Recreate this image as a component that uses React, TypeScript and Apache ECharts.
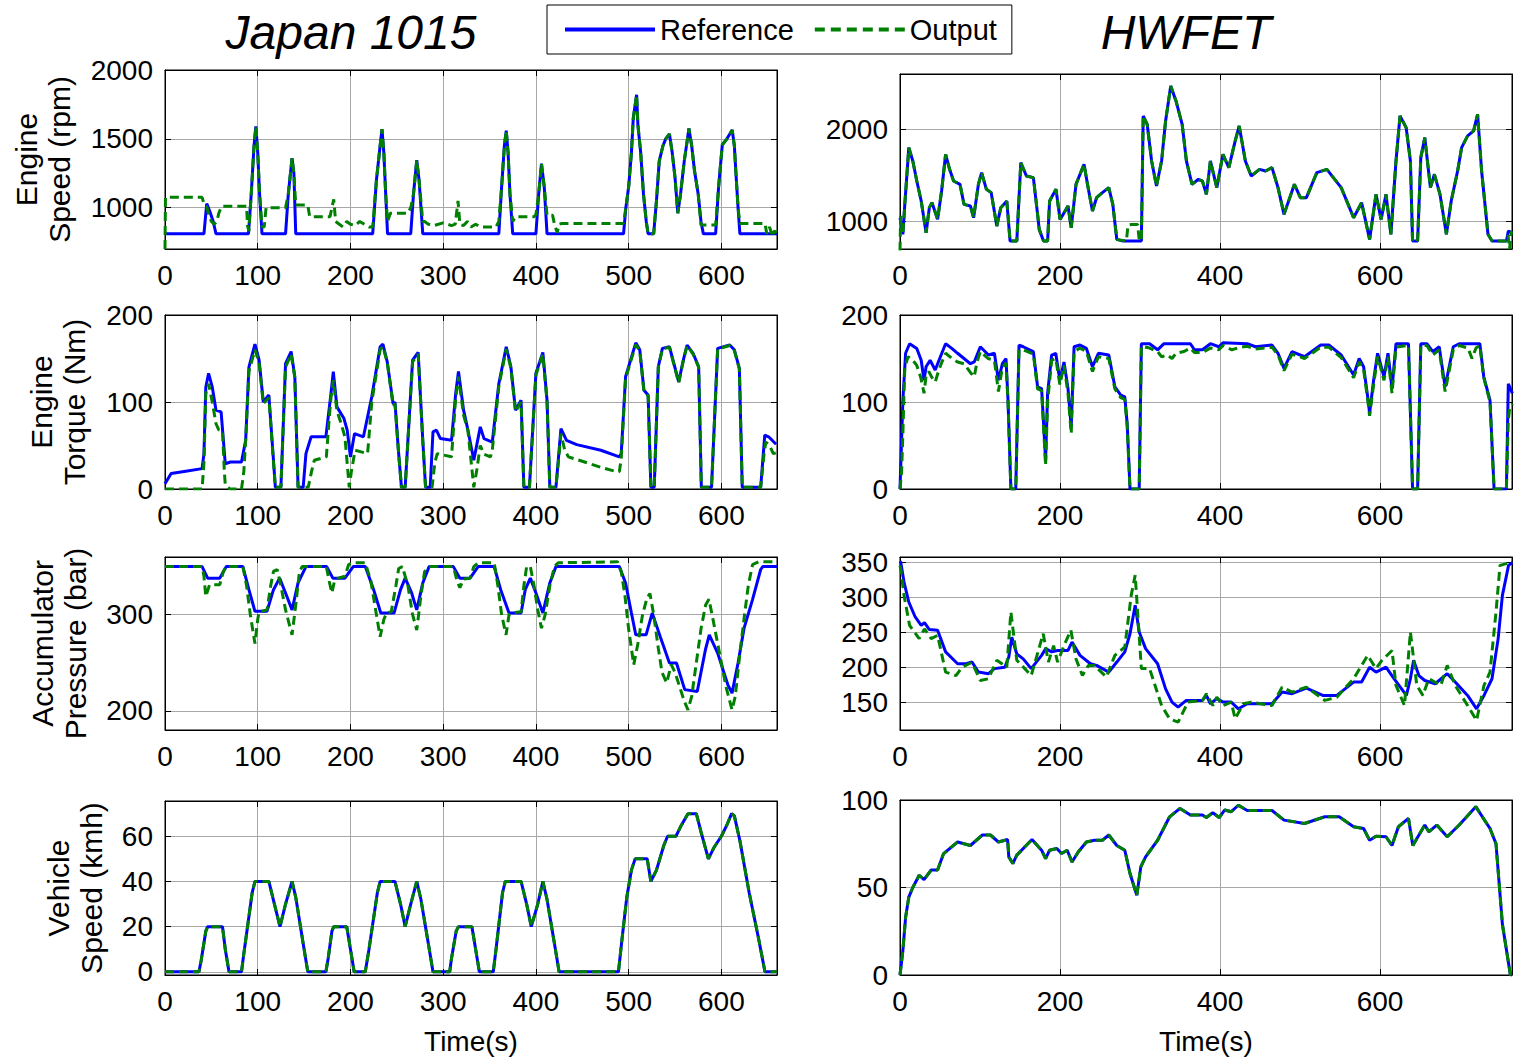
import React, { useEffect, useRef } from 'react';
import * as echarts from 'echarts';

const FONT = '"Liberation Sans", Arial, Helvetica, sans-serif';

type P = [number, number];

// ---------- tick labels ----------
const jpTimeTicks = [0, 100, 200, 300, 400, 500, 600];
const hwTimeTicks = [0, 200, 400, 600];
const speedTicksJp = [1000, 1500, 2000];
const speedTicksHw = [1000, 2000];
const torqueTicks = [0, 100, 200];
const pressTicksJp = [200, 300];
const pressTicksHw = [150, 200, 250, 300, 350];
const vehTicksJp = [0, 20, 40, 60];
const vehTicksHw = [0, 50, 100];

// ---------- Japan 1015: engine speed (rpm) ----------
const jpSpeedRef: P[] = [[0,810],[42,810],[45,1030],[48,980],[52,900],[55,810],[90,810],[93,1100],[96,1450],[98,1590],[100,1400],[102,1100],[104.6,810],[130,810],[133,1100],[137,1360],[139,1250],[141,810],[224,810],[228,1200],[232,1450],[234,1570],[236,1400],[238,1100],[240,810],[265,810],[268,1100],[271.5,1345],[274,1200],[278,810],[360,810],[363,1150],[366,1450],[368,1560],[370,1400],[372,1100],[375,810],[400,810],[403,1100],[406,1320],[409,1150],[412,810],[494.5,810],[497,1000],[500,1150],[503,1400],[505,1650],[508.6,1820],[510,1600],[513,1400],[516,1100],[519,900],[521,810],[527,810],[530,1050],[533,1338],[537,1450],[540,1500],[544,1535],[547,1400],[550,1220],[553,960],[556,1100],[560,1340],[563,1480],[565,1576],[568,1450],[571,1270],[575,1100],[578,900],[580.6,810],[593.8,810],[597,1150],[601,1457],[606,1500],[611.7,1565],[614,1450],[616,1220],[618,1000],[620,810],[660,810]];
const jpSpeedOut: P[] = [[0,700],[0.5,1075],[40,1075],[42,1030],[45,1010],[47,950],[50,900],[53,880],[56,900],[58,960],[61,1010],[88,1010],[89,870],[90.5,830],[93,1100],[96,1450],[98,1590],[100,1400],[102,1100],[104.6,860],[107,860],[109,1000],[130,1000],[133,1100],[137,1360],[139,1250],[141,1020],[154,1020],[156,935],[178,935],[180,1000],[182,1060],[184,900],[188,880],[192,860],[196,900],[200,880],[205,870],[210,900],[215,880],[220,860],[224,860],[228,1200],[232,1450],[234,1570],[236,1400],[238,1100],[240,900],[243,960],[262,960],[265,1000],[268,1100],[271.5,1345],[274,1200],[278,900],[280,900],[284,880],[290,870],[300,890],[309,870],[313,880],[316,1050],[318,880],[322,870],[326,900],[330,860],[335,880],[340,860],[357,860],[360,900],[363,1150],[366,1450],[368,1560],[370,1400],[372,1100],[375,900],[378,935],[398,935],[400,950],[403,1100],[406,1320],[409,1150],[412,945],[418,945],[420,880],[423,820],[425,880],[428,886],[494.5,886],[497,1000],[500,1150],[503,1400],[505,1650],[508.6,1820],[510,1600],[513,1400],[516,1100],[519,900],[521,810],[527,810],[530,1050],[533,1338],[537,1450],[540,1500],[544,1535],[547,1400],[550,1220],[553,960],[556,1100],[560,1340],[563,1480],[565,1576],[568,1450],[571,1270],[575,1100],[578,874],[593.8,874],[597,1150],[601,1457],[606,1500],[611.7,1565],[614,1450],[616,1220],[618,1000],[620,886],[647,886],[649,810],[652,860],[655,790],[657,830],[660,820]];

// ---------- HWFET: engine speed (rpm) ----------
const hwSpeedRef: P[] = [[0,1040],[3.6,859],[6,1185],[11,1800],[16,1656],[21,1438],[26.5,1221],[32.6,877],[36.7,1149],[40,1203],[47,1022],[52,1330],[57,1728],[62,1565],[67,1438],[75,1402],[80,1185],[88,1167],[92,1040],[98,1402],[102,1529],[108,1348],[114,1312],[121,949],[126,1149],[133.5,1221],[137.6,786],[146,786],[151,1638],[158,1493],[166.7,1475],[172,1076],[174,913],[179.4,786],[184.5,786],[187,1221],[195,1348],[200,1022],[204,1076],[210,1167],[214,931],[220,1402],[230,1620],[235.5,1348],[240.6,1112],[245.7,1257],[253,1312],[261,1366],[266,1185],[271,804],[279,786],[301.7,786],[304,2145],[309,2054],[314.5,1656],[320.6,1384],[327,1656],[332,2090],[338.4,2471],[345,2308],[352.7,2054],[358,1656],[365,1402],[373,1457],[378,1438],[383,1293],[388,1656],[396,1366],[403.7,1728],[411,1583],[419,1873],[424,2036],[431.7,1656],[439,1493],[449.4,1565],[457,1547],[465,1583],[472.5,1366],[480,1076],[493,1402],[500.5,1257],[508,1257],[521,1529],[533.6,1565],[551.5,1366],[567,1040],[577,1203],[587,804],[595,1293],[601.4,1022],[607.5,1293],[613.6,859],[620,1656],[625,2145],[632.7,2018],[638,1656],[640.7,786],[647,786],[651,1692],[656,1909],[663,1366],[668,1511],[675,1293],[683,859],[689,1221],[697,1547],[702,1800],[709.5,1928],[717,1982],[722,2163],[727,1547],[735,859],[740,786],[758,786],[760.4,895],[765.5,877]];
const hwSpeedOut: P[] = [[0,680],[0.8,1060],[3.6,859],[6,1185],[11,1800],[16,1656],[21,1438],[26.5,1221],[32.6,877],[36.7,1149],[40,1203],[47,1022],[52,1330],[57,1728],[62,1565],[67,1438],[75,1402],[80,1185],[88,1167],[92,1040],[98,1402],[102,1529],[108,1348],[114,1312],[121,949],[126,1149],[133.5,1221],[137.6,786],[146,786],[151,1638],[158,1493],[166.7,1475],[172,1076],[174,913],[179.4,786],[184.5,786],[187,1221],[195,1348],[200,1022],[204,1076],[210,1167],[214,931],[220,1402],[230,1620],[235.5,1348],[240.6,1112],[245.7,1257],[253,1312],[261,1366],[266,1185],[271,804],[283,786],[285,960],[290,967],[297,967],[299,800],[301.7,786],[304,2145],[309,2054],[314.5,1656],[320.6,1384],[327,1656],[332,2090],[338.4,2471],[345,2308],[352.7,2054],[358,1656],[365,1402],[373,1457],[378,1438],[383,1293],[388,1656],[396,1366],[403.7,1728],[411,1583],[419,1873],[424,2036],[431.7,1656],[439,1493],[449.4,1565],[457,1547],[465,1583],[472.5,1366],[480,1076],[493,1402],[500.5,1257],[508,1257],[521,1529],[533.6,1565],[551.5,1366],[567,1040],[577,1203],[587,804],[595,1293],[601.4,1022],[607.5,1293],[613.6,859],[620,1656],[625,2145],[632.7,2018],[638,1656],[640.7,786],[647,786],[651,1692],[656,1909],[663,1366],[668,1511],[675,1293],[683,859],[689,1221],[697,1547],[702,1800],[709.5,1928],[717,1982],[722,2163],[727,1547],[735,859],[740,786],[758,786],[760,850],[762,700],[764,880],[765.5,890]];

// ---------- Japan 1015: engine torque (Nm) ----------
const jpTorqueRef: P[] = [[0,6],[6.6,17.7],[24,20.7],[40,23.4],[42,40.7],[44,117],[47,133],[51,117],[55,90.6],[60.5,88.7],[65,29],[70.6,31],[82.5,31],[87,56],[90.5,140],[97,166.6],[101.5,148],[106,100],[112,108],[116,48],[119,2],[125,2],[130,144],[136,158],[140,129],[143.5,2],[149,2],[152,40.7],[157.6,60],[173.5,60],[179,110],[181.5,135],[185.4,94.4],[193,81],[196.5,67.6],[200,36.9],[204.4,63.7],[214,60],[223,106],[232,163.5],[235,166.6],[239.7,146],[246,98],[248,100],[251.7,44.5],[255,2],[259,2],[267,148],[273,157],[278,56],[281,2],[286,2],[289,65.6],[292.7,67.6],[297,58],[309,56],[313.5,110],[316.5,135],[322,90.6],[326.7,67.6],[333,33],[340,71.4],[344,58],[353,54],[360,121],[368,163.5],[373,140.5],[378,90.6],[384,102],[387,2],[393,2],[400,133],[407.5,157],[412,102],[415,2],[421.6,2],[427,69.5],[433,56],[444,51],[470,44.5],[490,37],[492,40.7],[496.7,129],[507.7,168],[512,160],[516.5,113.6],[521,108],[524,2],[527.6,2],[532,140.5],[536.4,161.6],[544,163.5],[554,123],[558.5,146],[563,165.5],[569.5,156],[575.5,140.5],[578.4,2],[589.4,2],[596,161.6],[609,165.5],[614,160],[619.4,138.6],[622.5,2],[642.4,2],[646.8,61.8],[651,60],[659,51.4]];
const jpTorqueOut: P[] = [[0,0],[40,0],[42,30],[44,110],[47,121],[51,100],[55,75],[58,68],[62,67],[64,20],[65,5],[70,0],[82.5,0],[85,20],[87,56],[90.5,135],[97,160],[101.5,145],[106,98],[112,105],[116,45],[119,2],[125,2],[130,140],[136,155],[140,128],[143.5,2],[154.5,2],[158,20],[161,33],[174,37],[177,80],[179,105],[181.5,125],[185.4,90],[190,75],[194,60],[198.7,2],[201,20],[205,44.5],[218.5,40.7],[223,100],[232,160],[235,164],[239.7,145],[246,96],[248,98],[251.7,44],[255,2],[259,2],[267,146],[273,155],[278,55],[281,2],[288,2],[291,30],[293.6,40.7],[309,37],[313.5,105],[316.5,129],[322,85],[326.7,67],[333,2],[336,20],[340,50],[344,40],[351,37],[353,45],[360,118],[368,161],[373,139],[378,89],[384,100],[387,2],[393,2],[400,131],[407.5,155],[412,100],[415,2],[421.6,2],[425,40],[427,63.7],[431,45],[435,37],[470,25],[488,19.6],[490,20],[492,35],[496.7,127],[507.7,166],[512,159],[516.5,112],[521,107],[524,2],[527.6,2],[532,140],[536.4,161],[544,163],[554,122],[558.5,145],[563,165],[569.5,155],[575.5,140],[578.4,2],[589.4,2],[596,161],[609,165],[614,159],[619.4,138],[622.5,2],[642.4,2],[646,40],[648,54],[652,50],[656,40.7],[660,42]];

// ---------- HWFET: engine torque (Nm) ----------
const hwTorqueRef: P[] = [[0,0],[3.6,102],[7,156],[12,167],[21,161.6],[26.5,148],[30,125],[32.6,140.5],[37.7,148],[44,136.7],[50.5,152],[57,167],[64.7,161.6],[72,156],[80,150],[88,144],[92.8,146],[100.4,163.5],[110.6,154],[118,156],[123,125],[128,144],[132.5,150],[135,102],[138.6,0],[144.7,0],[148.8,165.5],[154,163.5],[166.7,157.8],[172,117.5],[177,115.5],[182,33],[184.5,110],[189.6,154],[194.7,156],[199.8,125],[205,146],[210,115.5],[214,71.4],[217.6,163.5],[225,165.5],[233,161.6],[240.6,140.5],[248,156],[261,154],[268.6,117.5],[276,108],[281,106],[284,75],[287.5,0],[299,0],[301.7,167],[312,167],[322,160],[330,167],[363,167],[368,160],[378,160],[388,167],[398.6,163.5],[403.7,168],[434,167],[444.4,163.5],[465,165.5],[472.5,156],[480,138.6],[490,157.8],[505.6,152],[526,165.5],[536,165.5],[551.5,154],[567,131],[574,150],[579.5,140.5],[584.6,106],[587,87],[592,125],[597,156],[605,129],[610,156],[615,115.5],[620,167],[635.6,167],[640.7,0],[647,0],[651,167],[658.6,167],[666,157.8],[674,163.5],[681.4,117.5],[691.6,163.5],[699,167],[724.8,167],[729.7,129],[737.5,102],[742.6,0],[758,0],[760.4,121],[765.5,110]];
const hwTorqueOut: P[] = [[0,0],[2,20],[3.6,63.7],[5,110],[6,140],[10,152],[16,148],[21,142],[26,128],[29,115],[30,110],[32.6,130],[36,135],[40,128],[44,123],[48,135],[52,145],[57,156],[65,150],[72,146],[80,144],[88,134],[92.8,129],[96,145],[100.4,158],[110,150],[118,148],[123,112],[128,140],[132.5,145],[135,100],[138.6,0],[144.7,0],[148.8,160],[154,160],[166.7,155],[172,115],[177,113],[182,27],[184.5,100],[189.6,148],[194.7,150],[199.8,120],[205,142],[210,110],[214,63.7],[217.6,158],[225,162],[233,158],[240.6,135],[248,152],[261,150],[268.6,115],[276,105],[281,103],[284,72],[287.5,0],[299,0],[301.7,164],[312,162],[322,158],[327,152],[334,154],[340,150],[345,156],[355,158],[363,162],[368,157],[378,157],[388,162],[398.6,160],[403.7,165],[415,160],[425,163],[434,164],[444.4,161],[465,163],[472.5,154],[480,136],[490,155],[505.6,150],[526,163],[536,163],[551.5,151],[567,128],[574,146],[579.5,137],[584.6,103],[587,84],[592,120],[597,152],[605,125],[610,152],[615,110],[620,163],[635.6,165],[640.7,0],[647,0],[651,165],[658.6,165],[666,154],[674,160],[681.4,112],[691.6,160],[699,165],[710,162],[715,150],[720,162],[724.8,165],[729.7,128],[737.5,100],[742.6,0],[758,0],[760.4,80],[762,92],[765.5,98]];

// ---------- Japan 1015: accumulator pressure (bar) ----------
const jpPressRef: P[] = [[0,350],[40,350],[46,338],[59,338],[66,350],[84,350],[90.5,326],[97,303.5],[110,303.5],[117,326],[123.6,338],[130,322.6],[137,305],[143.5,333],[152,350],[174.4,350],[181,338],[194,338],[203,350],[216,350],[225,326],[232.7,301.7],[247,301.7],[254,326],[259,338],[266,322.6],[271.5,305],[278,333],[284.8,350],[311,350],[318,338],[329,338],[337.7,350],[355,350],[362,326],[371,301.7],[384,301.7],[388.5,326],[394,338],[400,322.6],[407.5,301.7],[415,333],[421.6,350],[490,350],[496.7,333],[503,301.7],[507.7,279],[518.8,279],[525.4,301.7],[534,277.4],[544,249.7],[551.6,249.7],[560.5,222],[574,220],[582.8,263.5],[587,279],[596,260],[607,227],[611.5,218.4],[618,249.7],[624.5,286],[633.6,315.6],[642.4,347],[644.6,350],[660,350]];
const jpPressOut: P[] = [[0,350],[40,350],[42,340],[44,319],[46,325],[48,331],[59,331],[63,345],[66,350],[84,350],[88,330],[92,300],[97,270],[100,295],[101.5,303],[110,305],[114,330],[117,345],[121,347],[125,330],[130,305],[137,279],[141,310],[145,345],[148,350],[174,350],[177,335],[180,322.6],[183,336],[187,338],[194,340],[198,352],[203,354],[216,354],[222,335],[228,300],[232,277],[236,295],[239,302],[244,303],[249,330],[252,348],[256,350],[262,330],[267,300],[271.5,284],[276,320],[280,345],[285,350],[311,350],[315,335],[318,328],[322,337],[329,338],[333,350],[337.7,354],[355,354],[359,330],[363,300],[367.8,279],[371,300],[375,302],[384,303],[387,330],[390,350],[394,350],[398,330],[402,305],[406,286],[410,300],[415,330],[420,350],[424,354],[488,355],[492,345],[496,320],[500,285],[505.5,248],[510,270],[515,300],[520,318],[523,322],[527,300],[532,265],[536,240],[541,229],[546,248],[550,240],[555,225],[560,210],[564,201],[568,215],[573,250],[578,285],[583,310],[586.6,316],[590,300],[595,275],[600,250],[605,225],[611.5,201],[615,215],[620,260],[625,300],[629,330],[633.6,352],[640,355],[660,355]];

// ---------- HWFET: accumulator pressure (bar) ----------
const hwPressRef: P[] = [[0,352],[1,350],[5,322],[11,293.5],[19,272],[26.5,260],[30.6,264],[36.7,254],[47,253],[57,222],[72,205],[82.6,205],[90,207.4],[98,193],[110.6,190.7],[118,198],[131,200],[136,214.6],[139.7,243],[146,219],[154,212],[164,198],[177,217],[182,226.6],[189.6,222],[197,224],[210,224],[215,236],[225,217],[238,205],[245.7,202.6],[261,193],[271,207.4],[281,222],[287.5,248],[294,288.8],[299,250.5],[307,226.6],[322,205],[332,169],[340,150],[347.6,142.8],[357.8,152.4],[378,152.4],[383,159.6],[388,147.6],[396,155],[403.7,150],[414,150],[423,140.4],[434,147.6],[465,147.6],[477.6,164.4],[490,162],[508,170],[528.5,159.6],[546,159.6],[567,178.7],[577,178.7],[587,200],[595,193],[607.5,200],[617.5,183.5],[633,159.6],[638,183.5],[642,210],[648.6,188],[656,181],[669,176.3],[684,190.7],[694,178.7],[709.5,159.6],[720.7,140.4],[730,159.6],[740,183.5],[747.7,241],[753,303],[760.7,346],[765.5,350]];
const hwPressOut: P[] = [[0,346],[1,340],[5,303],[12,260],[24,241],[30.6,255],[39,241],[47,245.7],[57,193],[70,188],[77.5,200],[90,207],[100.4,181],[110.6,183.5],[121,210],[133.5,200],[138.6,279],[146,210],[156,198],[164,188],[179,248],[185.5,207.4],[192,231],[197,207.4],[205,231],[213.6,253],[220,212],[228,188],[235.5,202.6],[243,202.6],[258,186],[268.6,217],[281,229],[289,303],[294,332],[301.7,198],[312,198],[327,145],[337,126],[347.6,121.3],[360,150],[378,152.4],[383,162],[391,145],[396,157],[403.7,145],[414,150],[419,126],[429,147.6],[439,150],[465,145],[477.6,171.5],[490,164.4],[508,171.5],[531,152.4],[546,157],[567,183.5],[584.6,217],[595,198],[602.6,210],[615,224],[620,174],[630.6,145],[638,250.5],[646,174],[653.6,159.6],[661,183.5],[676,174],[684,202.6],[694,174],[709.5,145],[720.7,123.7],[730,174],[737.5,193],[745,279],[750,346],[765.5,351]];

// ---------- Japan 1015: vehicle speed (km/h) ----------
const jpVehRef: P[] = [[0,0],[36.6,0],[39,5],[44,18],[46,20],[62,20],[65,10],[69,0],[82.5,0],[85,8],[94,35],[97,40],[112,40],[118,30],[124,20],[130,30],[137,40],[141,33],[150,10],[154,0],[173.5,0],[176,6],[180,18],[182,20],[196,20],[200,10],[204,0],[216,0],[220,10],[229,35],[232,40],[248,40],[254,30],[259,20],[265,30],[271.5,40],[276,32],[285,10],[289,0],[307,0],[309,6],[314,18],[316.5,20],[331,20],[335,10],[339,0],[354,0],[357,10],[364,35],[367,40],[384,40],[390,30],[395,20],[402,30],[407.5,40],[412,32],[421,10],[425,0],[489,0],[493,15],[498,33],[503,45],[507,50],[520,50],[524,40],[530,45],[538,56],[542,60],[551,60],[557,65],[564,70],[573,70],[578,62],[586,50],[592,55],[600,60],[606,65],[611,70],[614,69],[620,58],[630,35],[640,15],[647,0],[660,0]];
const jpVehOut: P[] = jpVehRef;

// ---------- HWFET: vehicle speed (km/h) ----------
const hwVehRef: P[] = [[0,0],[3.6,14],[7,33],[11,44.5],[16,50],[24,57],[30,54.5],[39,60],[47,60],[54.5,69.4],[72,76],[88,74],[103,80],[113,80],[123,76],[134.5,77.4],[136,67.5],[141,63.7],[146,68.5],[165,77.4],[177,71.3],[182,66.5],[187,71.3],[196,72.3],[202,69.4],[209,71.3],[215,64.6],[223,70.4],[233,76],[243,77],[253,77],[261,80],[271,74],[281,71.3],[287.5,58],[296,45.5],[301,61.8],[307,67.5],[322,77],[337,90.4],[350,95.2],[363,91.4],[378,91.4],[383,90],[391,92.7],[399,90],[406,94.3],[414,93.3],[423,97],[434,94],[465,94],[480,88.5],[505.6,86.6],[531,90.4],[549,90.4],[567,84.7],[579.5,83.7],[587,77],[595,79.3],[607.5,79],[615,74],[623,84.7],[635.6,89.5],[641,74],[656,85.7],[661,81.8],[671,85.7],[684,79],[699,85.7],[719.7,96.2],[737.5,83.7],[745,75],[753,29],[763,0],[765,0]];
const hwVehOut: P[] = hwVehRef;

// ---------- layout ----------
const columns = [
  { left: 165, width: 612, xMax: 660, xInterval: 100, xTicks: jpTimeTicks },
  { left: 900, width: 612, xMax: 765, xInterval: 200, xTicks: hwTimeTicks },
];

const panels = [
  { ref: jpSpeedRef, out: jpSpeedOut, col: 0, top: 70, height: 179, yMin: 700, yMax: 2000, yTicks: speedTicksJp, yName: 'Engine\nSpeed (rpm)', nameGap: 89 },
  { ref: hwSpeedRef, out: hwSpeedOut, col: 1, top: 74, height: 175, yMin: 700, yMax: 2600, yTicks: speedTicksHw, yName: '', nameGap: 0 },
  { ref: jpTorqueRef, out: jpTorqueOut, col: 0, top: 315, height: 174, yMin: 0, yMax: 200, yTicks: torqueTicks, yName: 'Engine\nTorque (Nm)', nameGap: 74 },
  { ref: hwTorqueRef, out: hwTorqueOut, col: 1, top: 315, height: 174, yMin: 0, yMax: 200, yTicks: torqueTicks, yName: '', nameGap: 0 },
  { ref: jpPressRef, out: jpPressOut, col: 0, top: 557, height: 173, yMin: 180, yMax: 360, yTicks: pressTicksJp, yName: 'Accumulator\nPressure (bar)', nameGap: 73 },
  { ref: hwPressRef, out: hwPressOut, col: 1, top: 557, height: 173, yMin: 110, yMax: 358, yTicks: pressTicksHw, yName: '', nameGap: 0 },
  { ref: jpVehRef, out: jpVehOut, col: 0, top: 801, height: 174, yMin: -1.4, yMax: 75.6, yTicks: vehTicksJp, yName: 'Vehicle\nSpeed (kmh)', nameGap: 57 },
  { ref: hwVehRef, out: hwVehOut, col: 1, top: 800, height: 175, yMin: 0, yMax: 100, yTicks: vehTicksHw, yName: '', nameGap: 0 },
];

const GRID_COLOR = '#a8a8a8';
const tickStyle = { inside: true, length: 6, lineStyle: { color: '#000', width: 1 } };
const labelText = { fontSize: 28, color: '#000', fontFamily: FONT };
const plain = (v: number) => String(v);

const ICON_SOLID = 'path://M0,0h90v4h-90z';
const ICON_DASHED = 'path://M0,0h10v4h-10zM16,0h10v4h-10zM32,0h10v4h-10zM48,0h10v4h-10zM64,0h10v4h-10zM80,0h10v4h-10z';

function buildOption() {
  const grid: any[] = [];
  const xAxis: any[] = [];
  const yAxis: any[] = [];
  const series: any[] = [];
  panels.forEach((p, i) => {
    const c = columns[p.col];
    grid.push({ left: c.left, top: p.top, width: c.width, height: p.height, show: true, borderColor: '#000', borderWidth: 1, containLabel: false });
    const isBottom = i >= 6;
    xAxis.push({
      type: 'value', gridIndex: i, position: 'bottom', min: 0, max: c.xMax, interval: c.xInterval,
      axisLine: { show: true, onZero: false, lineStyle: { color: '#000', width: 1 } },
      axisTick: { ...tickStyle, customValues: c.xTicks },
      axisLabel: { ...labelText, margin: 12, customValues: c.xTicks, formatter: plain },
      splitLine: { show: true, lineStyle: { color: GRID_COLOR, width: 1 } },
      name: isBottom ? 'Time(s)' : '', nameLocation: 'middle', nameGap: 52,
      nameTextStyle: { ...labelText },
    });
    xAxis.push({
      type: 'value', gridIndex: i, position: 'top', min: 0, max: c.xMax, interval: c.xInterval,
      axisLine: { show: true, onZero: false, lineStyle: { color: '#000', width: 1 } },
      axisTick: { ...tickStyle, customValues: c.xTicks },
      axisLabel: { show: false },
      splitLine: { show: false },
    });
    yAxis.push({
      type: 'value', gridIndex: i, position: 'left', min: p.yMin, max: p.yMax,
      axisLine: { show: true, onZero: false, lineStyle: { color: '#000', width: 1 } },
      axisTick: { ...tickStyle, customValues: p.yTicks },
      axisLabel: { ...labelText, margin: 12, customValues: p.yTicks, formatter: plain },
      splitLine: { show: true, lineStyle: { color: GRID_COLOR, width: 1 } },
      name: p.yName, nameLocation: 'middle', nameRotate: 90, nameGap: p.nameGap,
      nameTextStyle: { fontSize: 30, lineHeight: 33, color: '#000', fontFamily: FONT },
    });
    yAxis.push({
      type: 'value', gridIndex: i, position: 'right', min: p.yMin, max: p.yMax,
      axisLine: { show: true, onZero: false, lineStyle: { color: '#000', width: 1 } },
      axisTick: { ...tickStyle, customValues: p.yTicks },
      axisLabel: { show: false },
      splitLine: { show: false },
    });
    series.push({
      type: 'line', name: 'Reference', xAxisIndex: 2 * i, yAxisIndex: 2 * i, data: p.ref,
      showSymbol: false, symbol: 'none', clip: true,
      lineStyle: { color: '#0000ff', width: 3 }, itemStyle: { color: '#0000ff' }, z: 2,
    });
    series.push({
      type: 'line', name: 'Output', xAxisIndex: 2 * i, yAxisIndex: 2 * i, data: p.out,
      showSymbol: false, symbol: 'none', clip: true,
      lineStyle: { color: '#008000', width: 3, type: [9, 5] }, itemStyle: { color: '#008000' }, z: 3,
    });
  });

  return {
    animation: false,
    backgroundColor: '#fff',
    textStyle: { fontFamily: FONT },
    grid, xAxis, yAxis, series,
    legend: {
      data: [
        { name: 'Reference', icon: ICON_SOLID, itemStyle: { color: '#0000ff' } },
        { name: 'Output', icon: ICON_DASHED, itemStyle: { color: '#008000' } },
      ],
      left: 547, top: 5, orient: 'horizontal',
      itemWidth: 90, itemHeight: 4, itemGap: 21, symbolKeepAspect: false,
      padding: [10, 15, 10, 18],
      borderColor: '#000', borderWidth: 1,
      textStyle: { fontSize: 29, color: '#000', fontFamily: FONT },
      selectedMode: false,
    },
    graphic: [
      { type: 'text', x: 351, y: 32, style: { text: 'Japan 1015', fill: '#000', fontSize: 48, fontStyle: 'italic', fontFamily: FONT, align: 'center', verticalAlign: 'middle' } },
      { type: 'text', x: 1186, y: 32, style: { text: 'HWFET', fill: '#000', fontSize: 48, fontStyle: 'italic', fontFamily: FONT, align: 'center', verticalAlign: 'middle' } },
    ],
  };
}

export default function App() {
  const ref = useRef<HTMLDivElement>(null);
  useEffect(() => {
    if (!ref.current) return;
    const chart = echarts.init(ref.current, null, { renderer: 'svg' });
    chart.setOption(buildOption() as any);
    return () => chart.dispose();
  }, []);
  return (
    <div
      ref={ref}
      style={{ position: 'fixed', left: 0, top: 0, width: 1517, height: 1059, background: '#fff' }}
    />
  );
}
